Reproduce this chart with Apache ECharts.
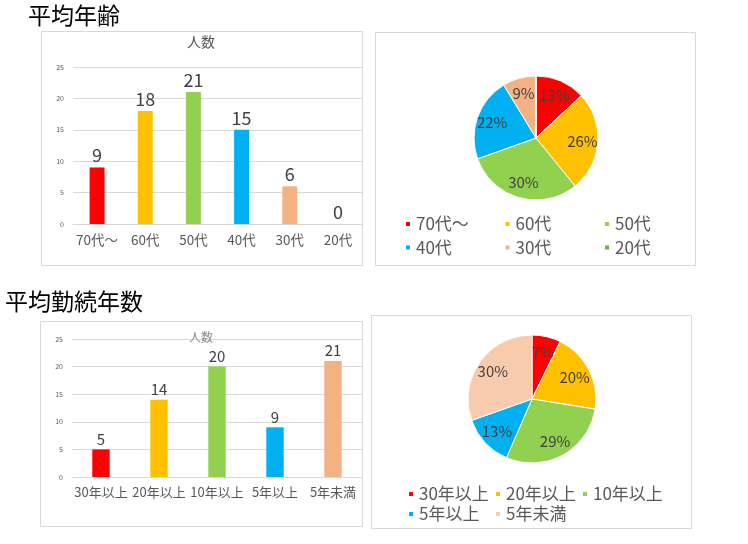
<!DOCTYPE html>
<html>
<head>
<meta charset="utf-8">
<script src="https://cdn.jsdelivr.net/npm/echarts@6/dist/echarts.min.js"></script>
<style>
html,body{margin:0;padding:0;background:#fff;}
#c{width:748px;height:544px;}
</style>
</head>
<body>
<div id="c"></div>
<script>
// ---- data ----
const ageTitle = '平均年齢';
const ageCategories = ['70代～', '60代', '50代', '40代', '30代', '20代'];
const ageValues = [9, 18, 21, 15, 6, 0];
const ageBarColors = ['#FF0000', '#FFC000', '#92D050', '#00B0F0', '#F4B183', '#70AD47'];
const agePieColors = ['#FF0000', '#FFC000', '#92D050', '#00B0F0', '#F4B183', '#70AD47'];

const yearsTitle = '平均勤続年数';
const yearsCategories = ['30年以上', '20年以上', '10年以上', '5年以上', '5年未満'];
const yearsValues = [5, 14, 20, 9, 21];
const yearsBarColors = ['#FF0000', '#FFC000', '#92D050', '#00B0F0', '#F4B183'];
const yearsPieColors = ['#FF0000', '#FFC000', '#92D050', '#00B0F0', '#F8CBAD'];

const barTitle = '人数';
const yTicks = [0, 5, 10, 15, 20, 25];

// ---- chart ----
const FONT = '"Noto Sans CJK JP", "Noto Sans", sans-serif';
const chart = echarts.init(document.getElementById('c'), null, {renderer: 'canvas'});

function barData(vals, colors) {
  return vals.map((v, i) => ({value: v, itemStyle: {color: colors[i]}}));
}
function pieData(cats, vals, colors) {
  return cats.map((c, i) => ({name: c, value: vals[i], itemStyle: {color: colors[i]}}));
}
function pctLabel(p) {
  return Math.round(p.percent) + '%';
}

const yMin = yTicks[0], yMax = yTicks[yTicks.length - 1], yInt = yTicks[1] - yTicks[0];

const option = {
  animation: false,
  textStyle: {fontFamily: FONT},
  graphic: [
    {type: 'rect', shape: {x: 41.5, y: 31.5, width: 321, height: 234}, style: {fill: '#fff', stroke: '#d9d9d9', lineWidth: 1}, z: -10},
    {type: 'rect', shape: {x: 375.5, y: 32.5, width: 320, height: 233}, style: {fill: '#fff', stroke: '#d9d9d9', lineWidth: 1}, z: -10},
    {type: 'rect', shape: {x: 40.5, y: 321.5, width: 322, height: 205}, style: {fill: '#fff', stroke: '#d9d9d9', lineWidth: 1}, z: -10},
    {type: 'rect', shape: {x: 371.5, y: 315.5, width: 320, height: 213}, style: {fill: '#fff', stroke: '#d9d9d9', lineWidth: 1}, z: -10}
  ],
  title: [
    {text: ageTitle, left: 28, top: 4, padding: 0, textStyle: {fontFamily: FONT, fontSize: 23, fontWeight: 'normal', color: '#000'}},
    {text: yearsTitle, left: 5, top: 290, padding: 0, textStyle: {fontFamily: FONT, fontSize: 23, fontWeight: 'normal', color: '#000'}},
    {text: barTitle, left: 201, top: 35, padding: 0, textAlign: 'center', textStyle: {fontFamily: FONT, fontSize: 14, fontWeight: 'normal', color: '#595959'}},
    {text: barTitle, left: 201, top: 331, padding: 0, textAlign: 'center', textStyle: {fontFamily: FONT, fontSize: 12, fontWeight: 'normal', color: '#8c8c8c'}}
  ],
  grid: [
    {left: 73, right: 386, top: 67, bottom: 320},
    {left: 72, right: 386, top: 339, bottom: 67}
  ],
  xAxis: [
    {type: 'category', gridIndex: 0, data: ageCategories,
     axisLine: {lineStyle: {color: '#d9d9d9'}}, axisTick: {show: false},
     axisLabel: {color: '#595959', fontSize: 13.5, margin: 9, fontFamily: FONT, interval: 0}},
    {type: 'category', gridIndex: 1, data: yearsCategories,
     axisLine: {lineStyle: {color: '#d9d9d9'}}, axisTick: {show: false},
     axisLabel: {color: '#595959', fontSize: 13, margin: 9, fontFamily: FONT, interval: 0}}
  ],
  yAxis: [
    {type: 'value', gridIndex: 0, min: yMin, max: yMax, interval: yInt,
     axisLine: {show: false}, axisTick: {show: false},
     splitLine: {lineStyle: {color: '#d9d9d9', width: 1}},
     axisLabel: {color: '#595959', fontSize: 7, margin: 9, fontFamily: FONT}},
    {type: 'value', gridIndex: 1, min: yMin, max: yMax, interval: yInt,
     axisLine: {show: false}, axisTick: {show: false},
     splitLine: {lineStyle: {color: '#d9d9d9', width: 1}},
     axisLabel: {color: '#595959', fontSize: 7, margin: 9, fontFamily: FONT}}
  ],
  legend: [
    {data: ageCategories, left: 404, top: 215, width: 300, orient: 'horizontal', padding: 0,
     icon: 'rect', itemWidth: 6, itemHeight: 6, itemGap: 5.5,
     textStyle: {fontFamily: FONT, fontSize: 17, color: '#595959', width: 82, lineHeight: 18, overflow: 'none'}},
    {data: yearsCategories, left: 407, top: 485, width: 270, orient: 'horizontal', padding: 0,
     icon: 'rect', itemWidth: 6, itemHeight: 6, itemGap: 2,
     textStyle: {fontFamily: FONT, fontSize: 17, color: '#595959', width: 73, lineHeight: 18, overflow: 'none'}}
  ],
  series: [
    {type: 'bar', xAxisIndex: 0, yAxisIndex: 0, barWidth: '31%',
     data: barData(ageValues, ageBarColors),
     label: {show: true, position: 'top', distance: 3, fontSize: 18, color: '#404040', fontFamily: FONT}},
    {type: 'bar', xAxisIndex: 1, yAxisIndex: 1, barWidth: '30%',
     data: barData(yearsValues, yearsBarColors),
     label: {show: true, position: 'top', distance: 3, fontSize: 15, color: '#404040', fontFamily: FONT}},
    {type: 'pie', center: [536, 138], radius: 62, startAngle: 90, clockwise: true,
     legendHoverLink: false,
     data: pieData(ageCategories, ageValues, agePieColors),
     itemStyle: {borderColor: '#fff', borderWidth: 1},
     label: {show: false}, labelLine: {show: false}},
    {type: 'pie', center: [536, 138], radius: [25, 62], startAngle: 90, clockwise: true,
     silent: true, legendHoverLink: false,
     data: pieData(ageCategories, ageValues, agePieColors),
     itemStyle: {opacity: 0},
     label: {show: true, position: 'inside', formatter: pctLabel, fontSize: 15, color: '#404040', fontFamily: FONT, opacity: 1},
     labelLine: {show: false}},
    {type: 'pie', center: [532, 399], radius: 64, startAngle: 90, clockwise: true,
     legendHoverLink: false,
     data: pieData(yearsCategories, yearsValues, yearsPieColors),
     itemStyle: {borderColor: '#fff', borderWidth: 1},
     label: {show: false}, labelLine: {show: false}},
    {type: 'pie', center: [532, 399], radius: [26, 64], startAngle: 90, clockwise: true,
     silent: true, legendHoverLink: false,
     data: pieData(yearsCategories, yearsValues, yearsPieColors),
     itemStyle: {opacity: 0},
     label: {show: true, position: 'inside', formatter: pctLabel, fontSize: 15, color: '#404040', fontFamily: FONT, opacity: 1},
     labelLine: {show: false}}
  ]
};
chart.setOption(option);
</script>
</body>
</html>
